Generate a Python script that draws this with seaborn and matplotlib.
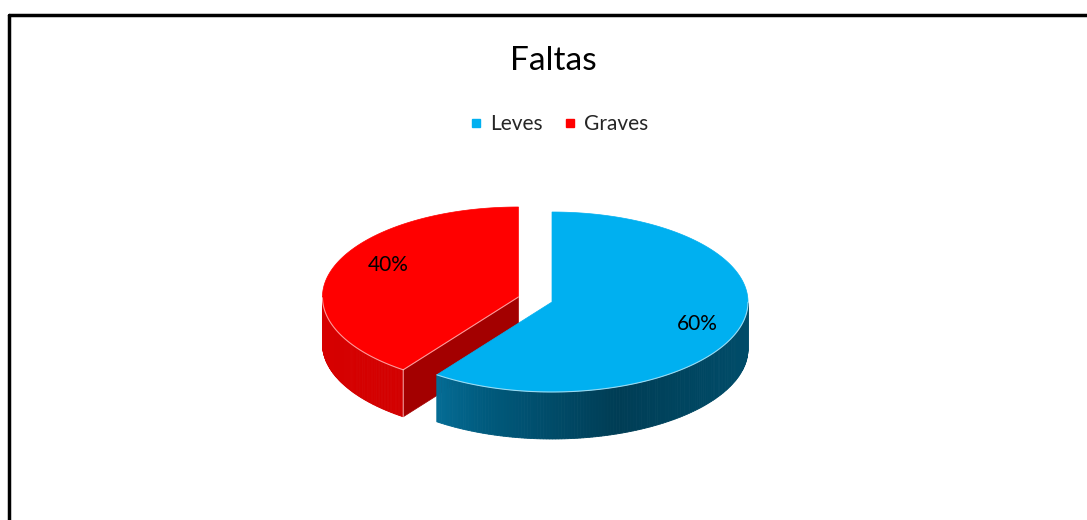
import numpy as np
import matplotlib.pyplot as plt
import seaborn as sns
from matplotlib.patches import Polygon
from matplotlib.lines import Line2D
from matplotlib.colors import LinearSegmentedColormap

# chart data
title = "Faltas"
categories = ["Leves", "Graves"]
values = [60, 40]
labels = ["60%", "40%"]

sns.set_theme(style="white")
plt.rcParams["font.family"] = ["Lato", "DejaVu Sans"]

top_colors = sns.color_palette(["#00B0F0", "#FF0000"])
wall_cmaps = [
    LinearSegmentedColormap.from_list("blue_wall", ["#0b8abb", "#005a7d", "#003d55", "#004c69"]),
    LinearSegmentedColormap.from_list("red_wall", ["#d60000", "#c40000"]),
]
cut_colors = ["#007aa6", "#a30000"]
explode = [0.0, 0.18]
label_pos = [(0.78, 0.0), (0.7, 0.45)]  # (radius, extra lift) for each label

# layout (pixels)
W, H = 1087, 520
CX, CY = 552, 302
RX, RY, DEPTH = 196, 90, 47


def pt(cx, cy, a, r=1.0):
    return cx + RX * r * np.cos(a), cy - RY * r * np.sin(a)


fig = plt.figure(figsize=(W / 100, H / 100), dpi=100)
fig.patch.set_facecolor("white")
ax = fig.add_axes([0, 0, 1, 1])
ax.set_xlim(0, W)
ax.set_ylim(H, 0)
ax.axis("off")

total = sum(values)
slices = []
start = np.pi / 2
for i, v in enumerate(values):
    a0 = start
    a1 = start - 2 * np.pi * v / total
    mid = (a0 + a1) / 2
    cx, cy = pt(CX, CY, mid, explode[i])
    slices.append((i, a0, a1, mid, cx, cy))
    start = a1

# back to front
for i, a0, a1, mid, cx, cy in sorted(slices, key=lambda s: s[5]):
    # radial cut faces
    for a, normal in [(a0, a0 + np.pi / 2), (a1, a1 - np.pi / 2)]:
        if np.sin(normal) < -1e-6:
            ex, ey = pt(cx, cy, a)
            face = [(cx, cy), (ex, ey), (ex, ey + DEPTH), (cx, cy + DEPTH)]
            ax.add_patch(Polygon(face, closed=True, facecolor=cut_colors[i],
                                 edgecolor=cut_colors[i], lw=0.5))
            ax.plot([cx, ex, ex], [cy, ey, ey + DEPTH], color="white", lw=0.8, alpha=0.6)

    # outer wall, shaded by angle
    angs = np.linspace(a1, a0, 240)
    for k in range(len(angs) - 1):
        am = (angs[k] + angs[k + 1]) / 2
        if np.sin(am) >= 0:
            continue
        xa, ya = pt(cx, cy, angs[k])
        xb, yb = pt(cx, cy, angs[k + 1])
        c = wall_cmaps[i]((np.cos(am) + 1) / 2)
        ax.add_patch(Polygon([(xa, ya), (xb, yb), (xb, yb + DEPTH), (xa, ya + DEPTH)],
                             closed=True, facecolor=c, edgecolor=c, lw=0.6))

    # top surface
    arc = np.linspace(a0, a1, 200)
    xs, ys = pt(cx, cy, arc)
    top = [(cx, cy)] + list(zip(xs, ys))
    ax.add_patch(Polygon(top, closed=True, facecolor=top_colors[i],
                         edgecolor=top_colors[i], lw=0.5))
    front = np.sin(arc) < 0
    ax.plot(xs[front], ys[front], color="white", lw=0.8, alpha=0.6)

    r, lift = label_pos[i]
    lx, ly = pt(cx, cy, mid, r)
    ax.text(lx, ly - lift * RY * 0.3, labels[i], ha="center", va="center",
            fontsize=15, color="black")

ax.text(553, 61, title, ha="center", va="center", fontsize=24, color="black")

handles = [Line2D([], [], marker="s", linestyle="", color=top_colors[i], markersize=6)
           for i in range(len(categories))]
ax.legend(handles, categories, loc="center", bbox_to_anchor=(558 / W, 1 - 124 / H),
          ncol=2, frameon=False, fontsize=15, handletextpad=0.3,
          columnspacing=0.9, handlelength=0.8)

# chart frame (top and left edges visible)
fig.add_artist(Line2D([9 / W, 1.0], [1 - 15 / H, 1 - 15 / H], transform=fig.transFigure,
                      color="black", lw=2.5))
fig.add_artist(Line2D([9 / W, 9 / W], [1 - 15 / H, 0], transform=fig.transFigure,
                      color="black", lw=2.5))

fig.savefig("out.png", dpi=100, facecolor="white")
